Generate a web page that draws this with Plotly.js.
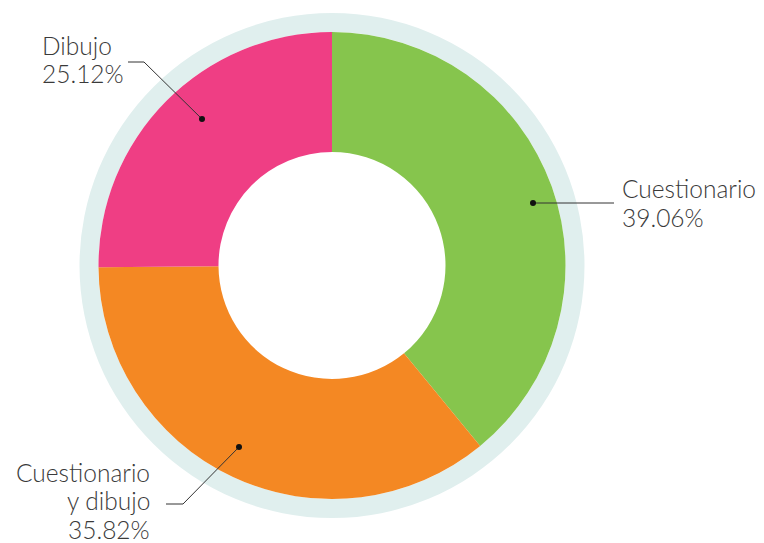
<!DOCTYPE html>
<html>
<head>
<meta charset="utf-8">
<script src="https://cdn.plot.ly/plotly-3.0.1.min.js"></script>
<style>html,body{margin:0;padding:0;background:#fff}#chart{width:764px;height:543px}</style>
</head>
<body>
<div id="chart"></div>
<script>
var categories = ['Cuestionario', 'Cuestionario y dibujo', 'Dibujo'];
var labelLines = [['Cuestionario'], ['Cuestionario', 'y dibujo'], ['Dibujo']];
var values = [39.06, 35.82, 25.12];
var colors = ['#86C54D', '#F48823', '#EF3E84'];

var W = 764, H = 543;
function px(x) { return x / W; }
function py(y) { return 1 - y / H; }

var cx = 332, cy = 265.5, rRing = 252.5, rPie = 233.5, rHole = 113.5;

var ring = {
  type: 'pie', values: [1], labels: ['ring'], sort: false,
  marker: {colors: ['#E0EFEE'], line: {width: 0}},
  hole: rPie / rRing, textinfo: 'none', hoverinfo: 'skip', showlegend: false,
  domain: {x: [px(cx - rRing), px(cx + rRing)], y: [py(cy + rRing), py(cy - rRing)]}
};
var donut = {
  type: 'pie', values: values, labels: categories, sort: false,
  direction: 'clockwise', rotation: 0,
  marker: {colors: colors, line: {width: 0}},
  hole: rHole / rPie, textinfo: 'none', showlegend: false,
  domain: {x: [px(cx - rPie), px(cx + rPie)], y: [py(cy + rPie), py(cy - rPie)]}
};

var lineColor = '#333333';
var leaders = [
  [[533, 203], [614, 203]],
  [[239, 447], [183, 504], [166, 504]],
  [[202, 119], [144, 62], [128, 62]]
];
var shapes = [];
leaders.forEach(function (pts) {
  var d = 'M' + pts.map(function (p) { return px(p[0]) + ',' + py(p[1]); }).join(' L');
  shapes.push({type: 'path', xref: 'paper', yref: 'paper', path: d, line: {color: lineColor, width: 1}});
  var p = pts[0], r = 3;
  shapes.push({type: 'circle', xref: 'paper', yref: 'paper',
    x0: px(p[0] - r), x1: px(p[0] + r), y0: py(p[1] + r), y1: py(p[1] - r),
    fillcolor: '#111', line: {width: 0}});
});

var font = {family: 'Lato, "Open Sans", sans-serif', size: 24.5, color: '#3a3a3a', weight: 300};
var annPos = [
  {x: 620, y: 188, xanchor: 'left', gap: 29},
  {x: 152, y: 472, xanchor: 'right', gap: 28.5},
  {x: 40, y: 45, xanchor: 'left', gap: 29}
];
var annotations = [];
categories.forEach(function (c, i) {
  var a = annPos[i];
  var lines = labelLines[i].concat([values[i].toFixed(2) + '%']);
  lines.forEach(function (t, k) {
    annotations.push({xref: 'paper', yref: 'paper', x: px(a.x), y: py(a.y + k * a.gap),
      xanchor: a.xanchor, yanchor: 'middle', align: a.xanchor, showarrow: false, font: font, text: t});
  });
});

Plotly.newPlot('chart', [ring, donut], {
  width: W, height: H, margin: {l: 0, r: 0, t: 0, b: 0},
  paper_bgcolor: '#fff', plot_bgcolor: '#fff',
  shapes: shapes, annotations: annotations
}, {displayModeBar: false, staticPlot: true});
</script>
</body>
</html>
